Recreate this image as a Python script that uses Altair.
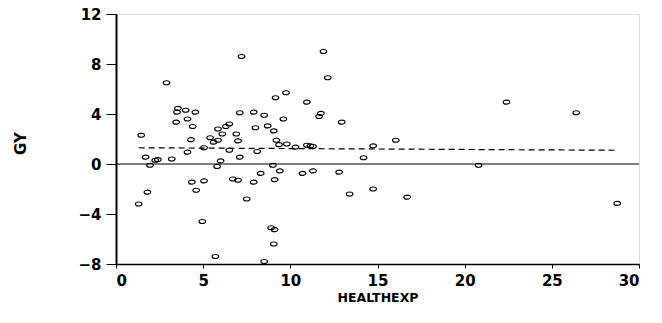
import altair as alt
import pandas as pd

healthexp = [1.3, 1.45, 1.7, 1.95, 2.25, 2.4, 1.8, 3.2, 2.9, 3.55, 3.5, 4.0, 4.55, 4.1, 3.45,
             4.4, 4.3, 4.1, 5.05, 4.35, 5.05, 4.6, 4.95, 5.7, 5.4, 5.6, 5.85, 5.85, 6.1, 6.3,
             6.5, 6.9, 7.0, 7.1, 7.2, 6.5, 7.1, 6.0, 5.8, 6.7, 7.0, 7.5, 7.9, 8.5, 8.0,
             8.7, 9.05, 9.2, 9.35, 9.8, 8.1, 9.0, 8.3, 9.4, 7.9, 9.1, 8.9, 9.1, 9.05, 8.5,
             9.15, 9.75, 9.6, 10.95, 11.9, 12.15, 11.75, 11.65, 12.95, 10.3, 10.95, 11.15, 11.3,
             10.7, 11.3, 12.8, 13.4, 14.75, 14.2, 14.75, 16.05, 16.7, 20.8, 22.4, 26.4, 28.75]
gy = [-3.2, 2.3, 0.55, -0.1, 0.3, 0.35, -2.25, 0.4, 6.5, 4.45, 4.15, 4.3, 4.15, 3.6, 3.35,
      3.0, 1.95, 0.95, 1.3, -1.45, -1.35, -2.1, -4.6, -7.4, 2.1, 1.75, 1.9, 2.8, 2.4, 3.0,
      3.2, 2.4, 1.85, 4.1, 8.6, 1.1, 0.55, 0.25, -0.2, -1.2, -1.3, -2.8, 4.15, 3.9, 2.9,
      3.05, 2.65, 1.9, 1.55, 1.6, 1.0, -0.1, -0.75, -0.55, -1.45, -1.25, -5.1, -5.25, -6.4, -7.8,
      5.3, 5.7, 3.6, 4.95, 9.0, 6.9, 4.05, 3.8, 3.35, 1.35, 1.5, 1.45, 1.4,
      -0.75, -0.55, -0.65, -2.4, -2.0, 0.5, 1.45, 1.9, -2.65, -0.1, 4.95, 4.1, -3.15]

fit_x = [1.3, 28.6]
fit_y = [1.3, 1.1]

zero_x = [0, 30]
zero_y = [0, 0]

x_ticks = [0, 5, 10, 15, 20, 25, 30]
y_ticks = [-8, -4, 0, 4, 8, 12]

pts = pd.DataFrame({"HEALTHEXP": healthexp, "GY": gy})
fit = pd.DataFrame({"HEALTHEXP": fit_x, "GY": fit_y})
zero = pd.DataFrame({"HEALTHEXP": zero_x, "GY": zero_y})

FONT = "DejaVu Sans"

xscale = alt.Scale(domain=[0, 30], nice=False, zero=False)
yscale = alt.Scale(domain=[-8, 12], nice=False, zero=False)

xaxis = alt.Axis(values=x_ticks, title="HEALTHEXP", grid=False, domainColor="black",
                 domainWidth=1.5, tickColor="black", tickSize=4, labelFont=FONT,
                 labelFontSize=15, labelFontWeight="bold", labelColor="black",
                 labelPadding=5, titleFont=FONT, titleFontSize=12.5, titleFontWeight="bold",
                 titleColor="black", titleBaseline="middle", titleY=33)
yaxis = alt.Axis(values=y_ticks, title="GY", grid=False, domainColor="black",
                 domainWidth=2, tickColor="black", tickSize=10, labelFont=FONT,
                 labelFontSize=15, labelFontWeight="bold", labelColor="black",
                 labelPadding=5, titleFont=FONT, titleFontSize=15, titleFontWeight="bold",
                 titleColor="black", titleX=-96, titleY=129, titleBaseline="middle",
                 titleAlign="center")

ellipse = "M -1 0 A 1 0.6 0 1 0 1 0 A 1 0.6 0 1 0 -1 0 Z"

points = alt.Chart(pts).mark_point(shape=ellipse, size=44, filled=False, color="black",
                                   strokeWidth=1.1, opacity=1).encode(
    x=alt.X("HEALTHEXP:Q", scale=xscale, axis=xaxis),
    y=alt.Y("GY:Q", scale=yscale, axis=yaxis),
)

zero_line = alt.Chart(zero).mark_line(color="black", strokeWidth=1.2).encode(
    x=alt.X("HEALTHEXP:Q", scale=xscale),
    y=alt.Y("GY:Q", scale=yscale),
)

fit_line = alt.Chart(fit).mark_line(color="black", strokeWidth=1.2, strokeDash=[6, 4]).encode(
    x=alt.X("HEALTHEXP:Q", scale=xscale),
    y=alt.Y("GY:Q", scale=yscale),
)

chart = alt.layer(zero_line, fit_line, points).properties(
    width=523, height=250,
    autosize=alt.AutoSizeParams(type="none"),
    padding={"left": 116, "top": 14, "right": 23, "bottom": 59},
).configure_view(stroke=None).configure(background="white")

chart.save("out.html", embed_options={"renderer": "svg", "actions": False})
